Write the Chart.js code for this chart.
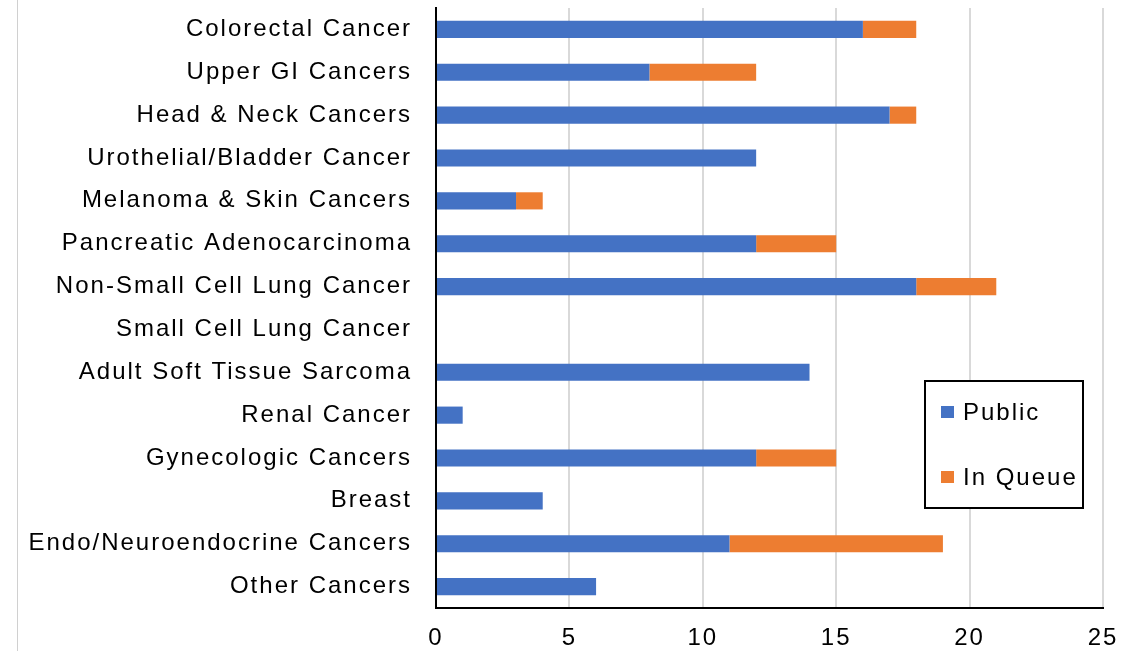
<!DOCTYPE html>
<html>
<head>
<meta charset="utf-8">
<script src="https://cdn.jsdelivr.net/npm/chart.js@4.4.1/dist/chart.umd.min.js"></script>
<style>
  html, body { margin: 0; padding: 0; background: #fff; }
  #wrap { position: relative; width: 1145px; height: 651px; }
  #edge { position: absolute; left: 17px; top: 0; width: 1px; height: 651px; background: #d0d0d0; }
  canvas { position: absolute; left: 0; top: 0; }
</style>
</head>
<body>
<div id="wrap">
  <canvas id="c" width="1145" height="651"></canvas>
  <div id="edge"></div>
</div>
<script>
const categories = [
  'Colorectal Cancer',
  'Upper GI Cancers',
  'Head & Neck Cancers',
  'Urothelial/Bladder Cancer',
  'Melanoma & Skin Cancers',
  'Pancreatic Adenocarcinoma',
  'Non-Small Cell Lung Cancer',
  'Small Cell Lung Cancer',
  'Adult Soft Tissue Sarcoma',
  'Renal Cancer',
  'Gynecologic Cancers',
  'Breast',
  'Endo/Neuroendocrine Cancers',
  'Other Cancers'
];
const publicCounts = [16, 8, 17, 12, 3, 12, 18, 0, 14, 1, 12, 4, 11, 6];
const inQueueCounts = [2, 4, 1, 0, 1, 3, 3, 0, 0, 0, 3, 0, 8, 0];
const xTicks = [0, 5, 10, 15, 20, 25];

const FONT = 'Liberation Sans, Arial, sans-serif';
const FONT_SIZE = 24;
const SPACING = '2px';

// Slightly tracked-out text for all labels
const tracking = {
  id: 'tracking',
  beforeLayout(chart) { chart.ctx.letterSpacing = SPACING; },
  beforeDraw(chart) { chart.ctx.letterSpacing = SPACING; }
};

// Pin the plot area's vertical extent
const plotBounds = {
  id: 'plotBounds',
  afterLayout(chart) {
    const top = 8, bottom = 608;
    const a = chart.chartArea;
    a.top = top; a.bottom = bottom; a.height = bottom - top;
    const y = chart.scales.y;
    y.top = top; y.bottom = bottom; y.height = bottom - top;
    y.configure();
    const x = chart.scales.x;
    x.top = bottom; x.bottom = bottom + x.height;
  }
};

// Boxed legend drawn inside the plot area
const boxLegend = {
  id: 'boxLegend',
  afterDraw(chart) {
    const ctx = chart.ctx;
    const x = 925, y = 381, w = 158, h = 127;
    ctx.save();
    ctx.letterSpacing = SPACING;
    ctx.fillStyle = '#fff';
    ctx.fillRect(x, y, w, h);
    ctx.strokeStyle = '#000';
    ctx.lineWidth = 2;
    ctx.strokeRect(x, y, w, h);
    ctx.font = FONT_SIZE + 'px ' + FONT;
    ctx.textBaseline = 'middle';
    const rows = [412, 477];
    chart.data.datasets.forEach((ds, i) => {
      ctx.fillStyle = ds.backgroundColor;
      ctx.fillRect(x + 16, rows[i] - 6, 13, 12);
      ctx.fillStyle = '#000';
      ctx.fillText(ds.label, x + 38, rows[i] + 1);
    });
    ctx.restore();
  }
};

new Chart(document.getElementById('c'), {
  type: 'bar',
  data: {
    labels: categories,
    datasets: [
      { label: 'Public', data: publicCounts, backgroundColor: '#4472C4', borderWidth: 0 },
      { label: 'In Queue', data: inQueueCounts, backgroundColor: '#ED7D31', borderWidth: 0 }
    ]
  },
  options: {
    indexAxis: 'y',
    responsive: false,
    animation: false,
    devicePixelRatio: 1,
    layout: { autoPadding: false, padding: { top: 8, right: 42, bottom: 0, left: 0 } },
    datasets: { bar: { categoryPercentage: 0.4, barPercentage: 1.0 } },
    plugins: { legend: { display: false }, tooltip: { enabled: false } },
    scales: {
      x: {
        stacked: true,
        min: 0, max: 25,
        afterFit(axis) { axis.height = 43; },
        afterBuildTicks(axis) { axis.ticks = xTicks.map(v => ({ value: v })); },
        grid: { color: '#d9d9d9', lineWidth: 2, drawTicks: false },
        border: { display: true, color: '#000', width: 2 },
        ticks: { color: '#000', font: { family: FONT, size: FONT_SIZE }, padding: 16, maxRotation: 0 }
      },
      y: {
        stacked: true,
        afterFit(axis) { axis.width = 436; },
        grid: { display: false, drawTicks: false },
        border: { display: true, color: '#000', width: 2 },
        ticks: { color: '#000', font: { family: FONT, size: FONT_SIZE }, padding: 24, autoSkip: false }
      }
    }
  },
  plugins: [tracking, plotBounds, boxLegend]
});
</script>
</body>
</html>
